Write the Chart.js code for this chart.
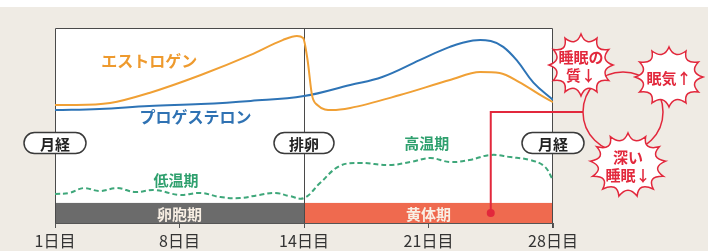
<!DOCTYPE html>
<html>
<head>
<meta charset="utf-8">
<script src="https://cdn.jsdelivr.net/npm/chart.js@4.4.1/dist/chart.umd.min.js"></script>
<style>
  html, body { margin: 0; padding: 0; background: #efebe4; }
  canvas { display: block; }
</style>
</head>
<body>
<canvas id="c" width="708" height="251"></canvas>
<script>
// x axis: 0..28 with the five day marks evenly spaced
const dayTicks  = [0, 7, 14, 21, 28];
const dayLabels = ["1日目", "8日目", "14日目", "21日目", "28日目"];

// hormone levels (0-100, relative)
const estrogenDays   = [0, 1.2, 3.1, 5.3, 8.2, 11.0, 12.8, 13.6, 13.95, 14.2, 14.45, 14.75, 15.6, 16.6, 19.4, 22.2, 23.9, 25.0, 26.1, 27.3, 28];
const estrogenLevels = [60.5, 60.5, 61.5, 66.7, 75.9, 86.2, 93.8, 95.9, 94.9, 83.6, 65.6, 60.5, 57.9, 59.0, 65.6, 73.3, 77.4, 76.9, 72.3, 65.6, 62.0];

const progesteroneDays   = [0, 2.5, 5.3, 8.2, 11.0, 14.0, 16.6, 18.4, 20.5, 22.2, 23.5, 24.5, 25.2, 26.0, 26.9, 28];
const progesteroneLevels = [57.9, 58.5, 60.0, 61.0, 62.6, 65.1, 70.8, 74.9, 83.5, 90.3, 93.6, 93.3, 90.3, 83.0, 72.0, 63.1];

// basal body temperature (dashed)
const tempDays   = [0, 0.8, 1.6, 2.5, 3.5, 4.5, 5.6, 7.0, 8.2, 9.3, 10.4, 11.5, 12.4, 13.2, 14.0, 14.9, 16.0, 17.1, 18.8, 20.0, 21.1, 22.2, 23.3, 24.5, 25.6, 26.7, 27.5, 28];
const tempLevels = [14.9, 15.4, 17.9, 16.4, 17.9, 15.9, 16.9, 14.4, 15.4, 13.3, 12.8, 14.4, 15.4, 13.8, 12.8, 20.5, 29.2, 30.8, 29.7, 31.3, 33.3, 31.3, 32.3, 34.9, 33.8, 32.3, 29.2, 22.1];

// phases
const phaseNames  = ["卵胞期", "黄体期"];
const phaseStart  = [0, 14];
const phaseEnd    = [14, 28];
const phaseColors = ["#6b6b6b", "#ef6a4f"];
const phaseTop    = 10.3;

const JP = '"Noto Sans CJK JP", "Noto Sans", sans-serif';
const RED = "#e2283c";

const pts = (xs, ys) => xs.map((v, i) => ({ x: v, y: ys[i] }));

function pill(ctx, cx, cy, w, h, text) {
  const r = h / 2;
  ctx.beginPath();
  ctx.moveTo(cx - w / 2 + r, cy - r);
  ctx.lineTo(cx + w / 2 - r, cy - r);
  ctx.arc(cx + w / 2 - r, cy, r, -Math.PI / 2, Math.PI / 2);
  ctx.lineTo(cx - w / 2 + r, cy + r);
  ctx.arc(cx - w / 2 + r, cy, r, Math.PI / 2, Math.PI * 1.5);
  ctx.closePath();
  ctx.fillStyle = "#ffffff";
  ctx.fill();
  ctx.strokeStyle = "#3a3a3a";
  ctx.lineWidth = 1.5;
  ctx.stroke();
  ctx.fillStyle = "#222";
  ctx.font = "bold 15px " + JP;
  ctx.textAlign = "center";
  ctx.textBaseline = "middle";
  ctx.fillText(text, cx, cy + 1);
}

function burst(ctx, cx, cy, rx, ry, n, lines) {
  ctx.beginPath();
  for (let i = 0; i < n; i++) {
    const a0 = -Math.PI / 2 + i * 2 * Math.PI / n;
    const a1 = a0 + Math.PI / n;
    const a2 = a0 + 2 * Math.PI / n;
    if (i === 0) ctx.moveTo(cx + rx * Math.cos(a0), cy + ry * Math.sin(a0));
    ctx.quadraticCurveTo(cx + rx * 0.6 * Math.cos(a1), cy + ry * 0.6 * Math.sin(a1),
                         cx + rx * Math.cos(a2), cy + ry * Math.sin(a2));
  }
  ctx.closePath();
  ctx.fillStyle = "#ffffff";
  ctx.fill();
  ctx.strokeStyle = RED;
  ctx.lineWidth = 1.5;
  ctx.stroke();
  ctx.fillStyle = RED;
  ctx.font = "bold 15px " + JP;
  ctx.textAlign = "center";
  ctx.textBaseline = "middle";
  const lh = 18;
  lines.forEach((t, i) => {
    ctx.fillText(t, cx, cy + (i - (lines.length - 1) / 2) * lh + 1);
  });
}

const decor = {
  id: "decor",
  beforeDraw(chart) {
    const { ctx, chartArea: a, scales: { x, y } } = chart;
    ctx.save();
    ctx.fillStyle = "#efebe4";
    ctx.fillRect(0, 0, chart.width, chart.height);
    ctx.fillStyle = "#ffffff";
    ctx.fillRect(0, 0, chart.width, 7);
    ctx.fillRect(a.left, a.top, a.right - a.left, a.bottom - a.top);

    // phase bars
    phaseNames.forEach((n, i) => {
      const x0 = x.getPixelForValue(phaseStart[i]);
      const x1 = x.getPixelForValue(phaseEnd[i]);
      const yt = y.getPixelForValue(phaseTop);
      const yb = y.getPixelForValue(0);
      ctx.fillStyle = phaseColors[i];
      ctx.fillRect(x0, yt, x1 - x0, yb - yt);
      ctx.fillStyle = "#f8efe4";
      ctx.font = "bold 15px " + JP;
      ctx.textAlign = "center";
      ctx.textBaseline = "middle";
      ctx.fillText(n, (x0 + x1) / 2, (yt + yb) / 2 + 1);
    });

    // frame + ovulation line
    ctx.strokeStyle = "#4a4a4a";
    ctx.lineWidth = 1;
    ctx.beginPath();
    ctx.moveTo(a.left + 0.5, a.bottom + 5);
    ctx.lineTo(a.left + 0.5, a.top + 0.5);
    ctx.lineTo(a.right - 0.5, a.top + 0.5);
    ctx.lineTo(a.right - 0.5, a.bottom + 5);
    const xo = Math.round(x.getPixelForValue(14)) + 0.5;
    ctx.moveTo(xo, a.top);
    ctx.lineTo(xo, a.bottom + 5);
    ctx.stroke();
    ctx.restore();
  },
  afterDatasetsDraw(chart) {
    const { ctx, scales: { x, y } } = chart;
    ctx.save();

    // series labels
    ctx.textAlign = "center";
    ctx.textBaseline = "middle";
    ctx.font = "bold 16px " + JP;
    ctx.fillStyle = "#ee9a2e";
    ctx.fillText("エストロゲン", x.getPixelForValue(5.3), y.getPixelForValue(83));
    ctx.fillStyle = "#2f72b3";
    ctx.fillText("プロゲステロン", x.getPixelForValue(7.9), y.getPixelForValue(54.4));
    ctx.fillStyle = "#2fa06e";
    ctx.font = "bold 15px " + JP;
    ctx.fillText("低温期", x.getPixelForValue(6.8), y.getPixelForValue(22));
    ctx.fillText("高温期", x.getPixelForValue(20.9), y.getPixelForValue(41));

    // pills
    const py = y.getPixelForValue(41);
    pill(ctx, x.getPixelForValue(0), py, 62, 21, "月経");
    pill(ctx, x.getPixelForValue(14), py, 60, 21, "排卵");
    pill(ctx, x.getPixelForValue(28), py, 62, 21, "月経");

    // red marker
    const rx = x.getPixelForValue(24.5);
    const ry0 = y.getPixelForValue(56.9);
    const ry1 = y.getPixelForValue(5.1);
    const cx = 623, cy = 112, cr = 40;
    ctx.strokeStyle = RED;
    ctx.lineWidth = 2;
    ctx.beginPath();
    ctx.moveTo(rx, ry1);
    ctx.lineTo(rx, ry0);
    ctx.lineTo(cx - cr, ry0);
    ctx.stroke();
    ctx.fillStyle = RED;
    ctx.beginPath();
    ctx.arc(rx, ry1, 4, 0, Math.PI * 2);
    ctx.fill();

    ctx.lineWidth = 1.5;
    ctx.beginPath();
    ctx.arc(cx, cy, cr, 0, Math.PI * 2);
    ctx.stroke();

    burst(ctx, 581, 65, 32, 31, 12, ["睡眠の", "質↓"]);
    burst(ctx, 669, 77, 34, 30, 12, ["眠気↑"]);
    burst(ctx, 628, 165, 38, 32, 13, ["深い", "睡眠↓"]);

    ctx.restore();
  }
};

new Chart(document.getElementById("c"), {
  type: "line",
  data: {
    datasets: [
      {
        data: pts(tempDays, tempLevels),
        borderColor: "#3ea77a",
        borderWidth: 2,
        borderDash: [5, 3],
        pointRadius: 0,
        tension: 0.4
      },
      {
        data: pts(estrogenDays, estrogenLevels),
        borderColor: "#f0a035",
        borderWidth: 2,
        pointRadius: 0,
        cubicInterpolationMode: "monotone"
      },
      {
        data: pts(progesteroneDays, progesteroneLevels),
        borderColor: "#2e74b6",
        borderWidth: 2,
        pointRadius: 0,
        tension: 0.4
      }
    ]
  },
  options: {
    responsive: false,
    animation: false,
    devicePixelRatio: 1,
    layout: { padding: { left: 55, right: 155, top: 28, bottom: 0 } },
    plugins: { legend: { display: false }, tooltip: { enabled: false } },
    scales: {
      x: {
        type: "linear",
        min: 0,
        max: 28,
        afterBuildTicks(s) { s.ticks = dayTicks.map(v => ({ value: v })); },
        afterFit(s) { s.height = 28; },
        ticks: {
          callback: v => dayLabels[dayTicks.indexOf(v)],
          font: { size: 16, family: JP },
          color: "#333",
          padding: 3,
          maxRotation: 0,
          autoSkip: false
        },
        grid: { drawOnChartArea: false, tickLength: 5, color: "#555" },
        border: { color: "#555" }
      },
      y: { display: false, min: 0, max: 100 }
    }
  },
  plugins: [decor]
});
</script>
</body>
</html>
